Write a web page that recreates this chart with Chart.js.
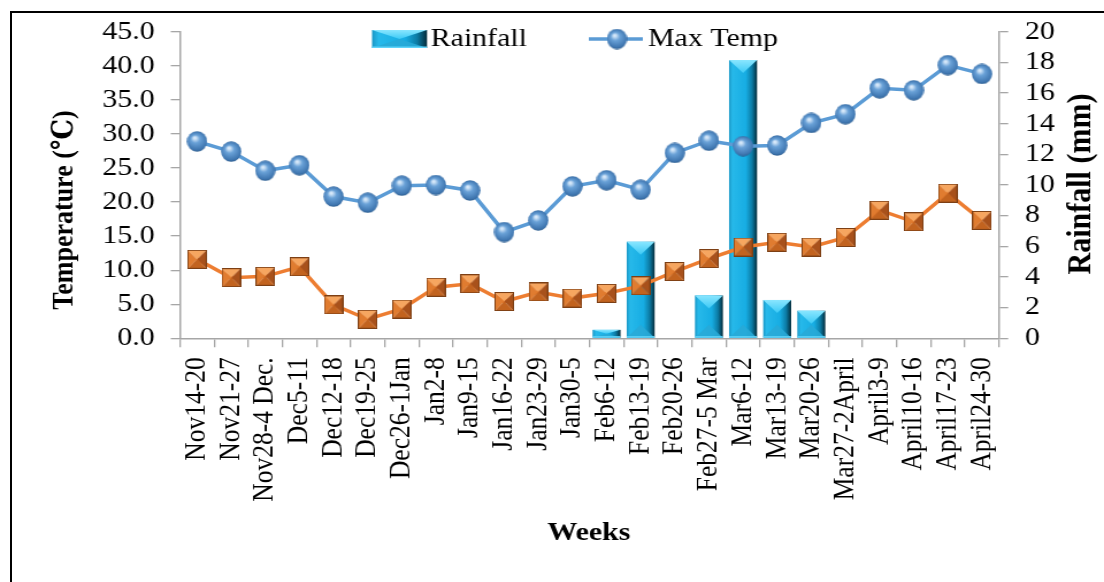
<!DOCTYPE html>
<html>
<head>
<meta charset="utf-8">
<script src="https://cdn.jsdelivr.net/npm/chart.js@4/dist/chart.umd.min.js"></script>
<style>
  html, body { margin: 0; padding: 0; background: #fff; overflow: hidden; }
  #wrap { position: relative; width: 1104px; height: 582px; }
  #chart { position: absolute; left: 0; top: 0; }
  #frame { position: absolute; left: 10px; top: 11px; width: 1200px; height: 700px;
           border: 2px solid #000; pointer-events: none; }
</style>
</head>
<body>
<div id="wrap">
  <!-- the source picture is stretched horizontally: draw at 960 wide, show at 1104 -->
  <canvas id="chart" width="960" height="582" style="width:1104px;height:582px"></canvas>
  <div id="frame"></div>
</div>
<script>
// ---- data ----
const weeks = ['Nov14-20', 'Nov21-27', 'Nov28-4 Dec.', 'Dec5-11', 'Dec12-18', 'Dec19-25',
  'Dec26-1Jan', 'Jan2-8', 'Jan9-15', 'Jan16-22', 'Jan23-29', 'Jan30-5', 'Feb6-12',
  'Feb13-19', 'Feb20-26', 'Feb27-5 Mar', 'Mar6-12', 'Mar13-19', 'Mar20-26',
  'Mar27-2April', 'April3-9', 'April10-16', 'April17-23', 'April24-30'];
const maxTemp = [28.9, 27.4, 24.6, 25.4, 20.8, 19.9, 22.4, 22.5, 21.7, 15.6, 17.3, 22.3,
  23.2, 21.8, 27.2, 29.0, 28.2, 28.3, 31.6, 32.9, 36.7, 36.4, 40.1, 38.8];
const minTemp = [11.6, 8.9, 9.1, 10.5, 4.9, 2.8, 4.3, 7.5, 8.0, 5.4, 6.8, 5.9,
  6.6, 7.7, 9.8, 11.7, 13.4, 14.1, 13.4, 14.8, 18.8, 17.1, 21.3, 17.3];
const rainfall = [0, 0, 0, 0, 0, 0, 0, 0, 0, 0, 0, 0,
  0.55, 6.3, 0, 2.8, 18.15, 2.5, 1.8, 0, 0, 0, 0, 0];
const tempTicks = { min: 0, max: 45, step: 5 };
const rainTicks = { min: 0, max: 20, step: 2 };

const SERIF = "'Liberation Serif', 'DejaVu Serif', serif";
const AXIS_GREY = '#a6a6a6';

// blue sphere marker (narrower than tall because the canvas gets stretched)
function makeSphere() {
  const c = document.createElement('canvas');
  c.width = 18; c.height = 21;
  const g = c.getContext('2d');
  const grad = g.createRadialGradient(7, 7, 1, 9, 10.5, 11);
  grad.addColorStop(0, '#d6e8fa');
  grad.addColorStop(0.3, '#6aa2d8');
  grad.addColorStop(0.8, '#3f76b0');
  grad.addColorStop(1, '#24517f');
  g.fillStyle = grad;
  g.beginPath();
  g.ellipse(9, 10.5, 8.8, 10.2, 0, 0, Math.PI * 2);
  g.fill();
  return c;
}

// orange pyramid marker
function makePyramid() {
  const c = document.createElement('canvas');
  const W = 17, H = 19;
  c.width = W; c.height = H;
  const g = c.getContext('2d');
  const cx = W / 2, cy = H / 2;
  const faces = [
    [[0, 0], [W, 0], '#f6a660'],
    [[0, 0], [0, H], '#e07c30'],
    [[W, 0], [W, H], '#a8511b'],
    [[0, H], [W, H], '#c2631f']
  ];
  faces.forEach(([a, b, col]) => {
    g.fillStyle = col;
    g.beginPath();
    g.moveTo(a[0], a[1]); g.lineTo(b[0], b[1]); g.lineTo(cx, cy);
    g.closePath();
    g.fill();
  });
  g.strokeStyle = '#7d3f14';
  g.lineWidth = 1;
  g.strokeRect(0.5, 0.5, W - 1, H - 1);
  return c;
}

const sphere = makeSphere();
const pyramid = makePyramid();

// bevelled cyan bar
function drawBevelBar(ctx, x, y, w, h) {
  if (h <= 0.5) return;
  const g = ctx.createLinearGradient(x, 0, x + w, 0);
  g.addColorStop(0, '#1a97c6');
  g.addColorStop(0.12, '#27b9ea');
  g.addColorStop(0.6, '#17ade3');
  g.addColorStop(0.82, '#0c7ba4');
  g.addColorStop(1, '#032c3b');
  ctx.fillStyle = g;
  ctx.fillRect(x, y, w, h);

  const d = Math.min(13, h / 2);
  const top = ctx.createLinearGradient(0, y, 0, y + d);
  top.addColorStop(0, '#8ae6ff');
  top.addColorStop(1, '#3ccaf6');
  ctx.fillStyle = top;
  ctx.beginPath();
  ctx.moveTo(x, y); ctx.lineTo(x + w, y); ctx.lineTo(x + w / 2, y + d);
  ctx.closePath();
  ctx.fill();

  ctx.fillStyle = 'rgba(40, 170, 215, 0.9)';
  ctx.beginPath();
  ctx.moveTo(x, y + h); ctx.lineTo(x + w, y + h); ctx.lineTo(x + w / 2, y + h - d);
  ctx.closePath();
  ctx.fill();

  ctx.fillStyle = '#5fd4fa';
  ctx.fillRect(x, y + h - 1.5, w, 1.5);
}

const bevelBars = {
  id: 'bevelBars',
  afterDatasetDraw(chart, args) {
    if (args.index !== 0) return;
    const ctx = chart.ctx;
    ctx.save();
    args.meta.data.forEach((bar, i) => {
      if (!rainfall[i]) return;
      const p = bar.getProps(['x', 'y', 'base', 'width'], true);
      drawBevelBar(ctx, p.x - p.width / 2, p.y, p.width, p.base - p.y);
    });
    ctx.restore();
  }
};

// legend and axis titles
const decorations = {
  id: 'decorations',
  afterDraw(chart) {
    const ctx = chart.ctx;
    ctx.save();
    ctx.fillStyle = '#000';

    // legend: Rainfall
    drawBevelBar(ctx, 323.5, 30, 47.8, 18);
    ctx.font = `26px ${SERIF}`;
    ctx.textAlign = 'left';
    ctx.textBaseline = 'middle';
    ctx.fillStyle = '#000';
    ctx.fillText('Rainfall', 374.5, 39);

    // legend: Max Temp
    ctx.strokeStyle = '#5b9bd5';
    ctx.lineWidth = 3.5;
    ctx.beginPath();
    ctx.moveTo(512, 39); ctx.lineTo(559, 39);
    ctx.stroke();
    ctx.drawImage(sphere, 536.5 - 9, 39 - 10.5);
    ctx.fillText('Max Temp', 563.5, 39);

    // axis titles
    ctx.font = `bold 26px ${SERIF}`;
    ctx.textAlign = 'center';
    ctx.fillText('Weeks', 512, 533);

    ctx.save();
    ctx.translate(56, 210);
    ctx.rotate(-Math.PI / 2);
    ctx.fillText('Temperature (℃)', 0, 0);
    ctx.restore();

    ctx.save();
    ctx.font = `bold 30px ${SERIF}`;
    ctx.translate(940, 184);
    ctx.rotate(-Math.PI / 2);
    ctx.fillText('Rainfall (mm)', 0, 0);
    ctx.restore();

    ctx.restore();
  }
};

const tickFont = { family: SERIF, size: 26 };

new Chart(document.getElementById('chart'), {
  data: {
    labels: weeks,
    datasets: [
      {
        type: 'bar',
        label: 'Rainfall',
        data: rainfall,
        yAxisID: 'yRain',
        backgroundColor: 'rgba(0,0,0,0)',
        borderWidth: 0,
        barPercentage: 0.82,
        categoryPercentage: 1,
        order: 3
      },
      {
        type: 'line',
        label: 'Max Temp',
        data: maxTemp,
        yAxisID: 'yTemp',
        borderColor: '#5b9bd5',
        borderWidth: 3.5,
        tension: 0,
        pointStyle: sphere,
        pointRadius: 10,
        order: 2
      },
      {
        type: 'line',
        label: 'Min Temp',
        data: minTemp,
        yAxisID: 'yTemp',
        borderColor: '#ed7d31',
        borderWidth: 3.5,
        tension: 0,
        pointStyle: pyramid,
        pointRadius: 10,
        order: 1
      }
    ]
  },
  options: {
    responsive: false,
    animation: false,
    events: [],
    layout: { padding: { top: 31.7, left: 0, right: 0, bottom: 0 } },
    plugins: {
      legend: { display: false },
      tooltip: { enabled: false }
    },
    scales: {
      x: {
        type: 'category',
        offset: true,
        border: { color: AXIS_GREY, width: 1.5 },
        grid: { drawOnChartArea: false, offset: true, color: AXIS_GREY, tickLength: 9, lineWidth: 1.3 },
        ticks: {
          color: '#000',
          font: { family: SERIF, size: 25.5 },
          minRotation: 90,
          maxRotation: 90,
          autoSkip: false,
          padding: 10
        },
        afterFit: (scale) => { scale.height = 582 - 338.3; }
      },
      yTemp: {
        position: 'left',
        min: tempTicks.min,
        max: tempTicks.max,
        border: { color: AXIS_GREY, width: 1.5 },
        grid: { drawOnChartArea: false, color: AXIS_GREY, tickLength: 8, lineWidth: 1.3 },
        ticks: {
          stepSize: tempTicks.step,
          autoSkip: false,
          color: '#000',
          font: tickFont,
          padding: 14,
          callback: (v) => v.toFixed(1)
        },
        afterFit: (scale) => { scale.width = 156.5; }
      },
      yRain: {
        position: 'right',
        min: rainTicks.min,
        max: rainTicks.max,
        border: { color: AXIS_GREY, width: 1.5 },
        grid: { drawOnChartArea: false, color: AXIS_GREY, tickLength: 8, lineWidth: 1.3 },
        ticks: {
          stepSize: rainTicks.step,
          autoSkip: false,
          color: '#000',
          font: tickFont,
          padding: 14.6
        },
        afterFit: (scale) => { scale.width = 960 - 868.7; }
      }
    }
  },
  plugins: [bevelBars, decorations]
});
</script>
</body>
</html>
